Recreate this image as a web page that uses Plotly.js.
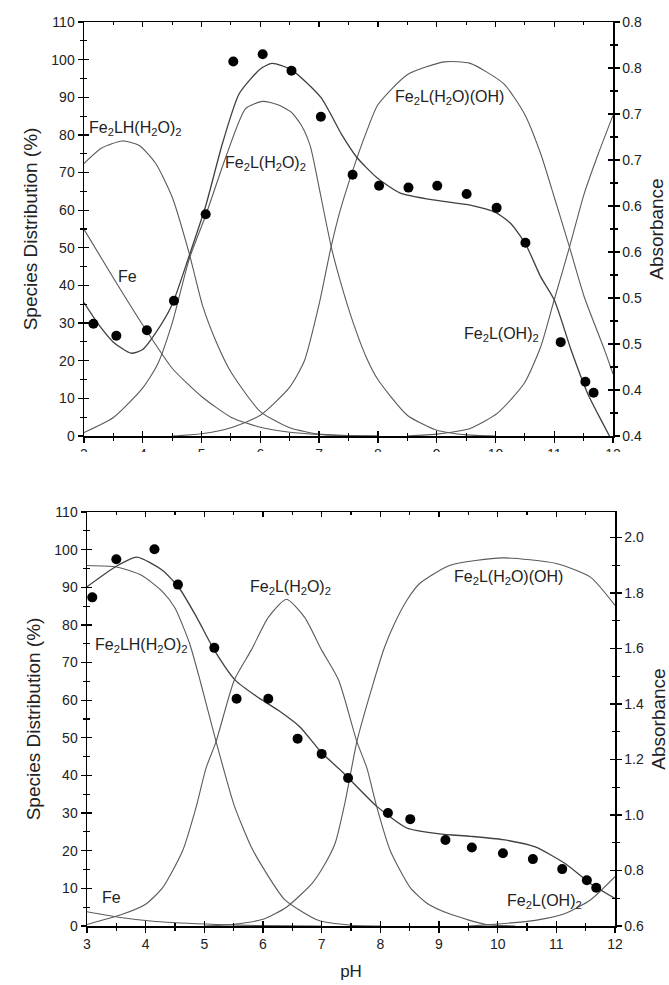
<!DOCTYPE html>
<html>
<head>
<meta charset="utf-8">
<script src="https://cdn.plot.ly/plotly-3.0.1.min.js"></script>
<style>html,body{margin:0;padding:0;background:#fff;}#chart{width:669px;height:985px;}</style>
</head>
<body>
<div id="chart"></div>
<script>
// ---------- TOP PANEL: species distribution (%) ----------
const topFeLH_pH = [3.0, 3.3, 3.65, 3.94, 4.22, 4.5, 4.79, 5.02, 5.25, 5.5, 6.0, 6.5, 7.0, 7.5, 8.0];
const topFeLH    = [72.4, 76.5, 78.4, 77.2, 72.4, 63.5, 48.5, 34.5, 25, 17, 6.5, 2.2, 0.5, 0.1, 0];

const topFe_pH = [3.0, 3.5, 4.0, 4.5, 5.0, 5.5, 6.0, 6.5, 7.0, 7.5, 8.0];
const topFe    = [54.9, 42, 29.5, 18, 10.5, 5, 2.3, 1.0, 0.4, 0.1, 0];

const topL2_pH = [3.0, 3.5, 4.0, 4.25, 4.5, 4.79, 5.07, 5.41, 5.75, 6.04, 6.3, 6.53, 6.7, 6.85, 7.0, 7.21, 7.4, 7.56, 7.8, 8.0, 8.5, 9.0, 9.25, 9.5, 10.0];
const topL2    = [0.9, 4.9, 12.8, 19, 30, 47, 58.6, 74, 87, 88.9, 88, 86, 82.5, 77, 66, 50, 39, 31, 21, 15, 5.5, 1.5, 0.8, 0.3, 0];

const topLOH_pH = [4.5, 5.0, 5.5, 6.0, 6.5, 6.75, 7.0, 7.2, 7.36, 7.56, 7.81, 8.0, 8.5, 9.13, 9.57, 10.14, 10.49, 10.77, 11.0, 11.26, 11.51, 11.86, 12.0];
const topLOH    = [0, 0.6, 2.2, 5.5, 13, 20, 35, 50, 60, 70, 81, 88, 96, 99.4, 99, 93.6, 85.7, 75, 63.5, 50.2, 37, 22.7, 16.5];

const topOH2_pH = [8.5, 9.0, 9.25, 9.57, 10.03, 10.49, 10.77, 11.0, 11.26, 11.51, 11.75, 12.0];
const topOH2    = [0, 0.5, 1.0, 2.0, 6, 14, 23.7, 36.2, 50.2, 64.4, 75, 85.2];

// absorbance fit + measured points (right axis)
const topFit_pH = [3.0, 3.25, 3.5, 3.8, 4.0, 4.25, 4.5, 4.79, 5.07, 5.36, 5.64, 6.0, 6.2, 6.53, 7.03, 7.39, 7.64, 7.98, 8.38, 9.0, 9.57, 10.0, 10.26, 10.51, 10.77, 11.0, 11.29, 11.57, 11.8, 11.94];
const topFit    = [0.545, 0.521, 0.502, 0.490, 0.494, 0.515, 0.543, 0.596, 0.650, 0.719, 0.772, 0.799, 0.805, 0.798, 0.768, 0.727, 0.703, 0.681, 0.664, 0.656, 0.651, 0.643, 0.631, 0.609, 0.573, 0.548, 0.493, 0.446, 0.417, 0.400];

const topDot_pH = [3.16, 3.55, 4.07, 4.53, 5.07, 5.54, 6.04, 6.53, 7.03, 7.57, 8.02, 8.52, 9.01, 9.51, 10.02, 10.51, 11.11, 11.53, 11.67];
const topDot    = [0.522, 0.509, 0.515, 0.547, 0.641, 0.807, 0.815, 0.797, 0.747, 0.684, 0.672, 0.670, 0.672, 0.663, 0.648, 0.610, 0.502, 0.459, 0.447];

const topAbsTicks  = [0.40, 0.45, 0.50, 0.55, 0.60, 0.65, 0.70, 0.75, 0.80, 0.85];
const topAbsLabels = ['0.4', '0.4', '0.5', '0.5', '0.6', '0.6', '0.7', '0.7', '0.8', '0.8'];

// ---------- BOTTOM PANEL ----------
const botFeLH_pH = [3.0, 3.5, 3.93, 4.29, 4.5, 4.75, 4.94, 5.2, 5.51, 5.8, 6.0, 6.37, 6.94, 7.5, 8.0];
const botFeLH    = [95.8, 95.4, 93.2, 88.8, 84.5, 75, 64.5, 49, 32, 21, 15.5, 7, 1.5, 0.2, 0];

const botFe_pH = [3.0, 3.6, 4.17, 5.2, 6.0, 7.0];
const botFe    = [3.8, 2.2, 1.2, 0.4, 0.1, 0];

const botL2_pH = [3.0, 3.6, 4.0, 4.29, 4.63, 4.86, 5.03, 5.2, 5.51, 5.8, 6.09, 6.4, 6.71, 7.0, 7.29, 7.6, 7.77, 7.94, 8.17, 8.51, 8.8, 9.2, 9.8, 10.3];
const botL2    = [0.4, 3.1, 5.8, 10.2, 20, 31.6, 42, 49, 65.3, 73.3, 82, 86.8, 82, 73.3, 65.3, 49, 42, 31.6, 20, 10.2, 6, 3.1, 0.4, 0];

const botLOH_pH = [5.0, 5.46, 6.0, 6.4, 6.83, 7.0, 7.23, 7.4, 7.6, 7.87, 8.07, 8.23, 8.45, 8.67, 9.18, 10.09, 11.0, 11.58, 12.0];
const botLOH    = [0, 0.4, 1.8, 5, 11.2, 15, 22, 33, 49, 64, 74, 80, 86.5, 91, 95.8, 97.8, 96.3, 92.7, 85.2];

const botOH2_pH = [9.5, 9.9, 10.64, 11.15, 11.58, 12.0];
const botOH2    = [0, 0.4, 1.5, 3.3, 6.9, 13.1];

const botFit_pH = [3.0, 3.5, 3.85, 4.29, 4.58, 4.87, 5.17, 5.53, 5.9, 6.26, 6.63, 7.0, 7.35, 7.94, 8.45, 9.0, 9.54, 10.09, 10.64, 11.15, 11.58, 12.0];
const botFit    = [1.822, 1.896, 1.929, 1.881, 1.815, 1.712, 1.594, 1.485, 1.426, 1.377, 1.317, 1.224, 1.156, 1.031, 0.953, 0.932, 0.923, 0.911, 0.885, 0.825, 0.753, 0.699];

const botDot_pH = [3.09, 3.50, 4.15, 4.55, 5.17, 5.55, 6.09, 6.59, 7.0, 7.45, 8.13, 8.51, 9.11, 9.56, 10.09, 10.6, 11.1, 11.52, 11.68];
const botDot    = [1.784, 1.921, 1.957, 1.830, 1.602, 1.419, 1.419, 1.275, 1.220, 1.133, 1.007, 0.985, 0.910, 0.883, 0.862, 0.841, 0.805, 0.765, 0.738];

const botAbsTicks  = [0.6, 0.8, 1.0, 1.2, 1.4, 1.6, 1.8, 2.0];
const botAbsLabels = ['0.6', '0.8', '1.0', '1.2', '1.4', '1.6', '1.8', '2.0'];

const pctTicks = [0, 10, 20, 30, 40, 50, 60, 70, 80, 90, 100, 110];

// ---------- styling ----------
const FONT = 'Liberation Sans, Arial, sans-serif';
const SPEC = {color: '#5a5a5a', width: 1.1};
const FITL = {color: '#404040', width: 1.3};

function curve(x, y, xa, ya, line) {
  return {x: x, y: y, xaxis: xa, yaxis: ya, type: 'scatter', mode: 'lines',
          line: Object.assign({shape: 'spline', smoothing: 0.6}, line), hoverinfo: 'skip'};
}
function dots(x, y, xa, ya) {
  return {x: x, y: y, xaxis: xa, yaxis: ya, type: 'scatter', mode: 'markers',
          marker: {color: '#000', size: 10}, hoverinfo: 'skip'};
}
function dummy(xa, ya) { return {x: [], y: [], xaxis: xa, yaxis: ya, type: 'scatter', mode: 'lines'}; }

const traces = [
  curve(topFeLH_pH, topFeLH, 'x', 'y', SPEC),
  curve(topFe_pH, topFe, 'x', 'y', SPEC),
  curve(topL2_pH, topL2, 'x', 'y', SPEC),
  curve(topLOH_pH, topLOH, 'x', 'y', SPEC),
  curve(topOH2_pH, topOH2, 'x', 'y', SPEC),
  curve(topFit_pH, topFit, 'x', 'y2', FITL),
  dots(topDot_pH, topDot, 'x', 'y2'),
  curve(botFeLH_pH, botFeLH, 'x2', 'y5', SPEC),
  curve(botFe_pH, botFe, 'x2', 'y5', SPEC),
  curve(botL2_pH, botL2, 'x2', 'y5', SPEC),
  curve(botLOH_pH, botLOH, 'x2', 'y5', SPEC),
  curve(botOH2_pH, botOH2, 'x2', 'y5', SPEC),
  curve(botFit_pH, botFit, 'x2', 'y6', FITL),
  dots(botDot_pH, botDot, 'x2', 'y6'),
  dummy('x3', 'y'), dummy('x', 'y3'), dummy('x', 'y4'),
  dummy('x4', 'y5'), dummy('x2', 'y7'), dummy('x2', 'y8')
];

const W = 669, H = 985;
const topX = [84 / W, 613 / W], botX = [87 / W, 615 / W];
const topY = [1 - 436 / H, 1 - 22 / H], botY = [1 - 926 / H, 1 - 512 / H];
const tickFont = {family: FONT, size: 14, color: '#222'};
const titleFont = {family: FONT, size: 19, color: '#222'};

function xMain(domain, anchor, title) {
  const a = {domain: domain, anchor: anchor, range: [3, 12], dtick: 1, tick0: 3,
    ticks: 'outside', ticklen: 5, tickwidth: 1.3, tickcolor: '#000',
    minor: {dtick: 0.5, ticks: 'outside', ticklen: 3, tickwidth: 1.1, tickcolor: '#000'},
    showline: true, linecolor: '#000', linewidth: 1.5, showgrid: false, zeroline: false,
    tickfont: tickFont, fixedrange: true};
  if (title) a.title = {text: title, font: {family: FONT, size: 17, color: '#222'}, standoff: 14};
  return a;
}
function xOver(over, anchor) {
  return {overlaying: over, anchor: anchor, side: 'bottom', range: [3, 12], dtick: 1, tick0: 3,
    ticks: 'inside', ticklen: 5, tickwidth: 1.3, tickcolor: '#000', mirror: 'allticks',
    minor: {dtick: 0.5, ticks: 'inside', ticklen: 3, tickwidth: 1.1, tickcolor: '#000'},
    showline: true, linecolor: '#000', linewidth: 1.5, showticklabels: false,
    showgrid: false, zeroline: false, fixedrange: true};
}
function yPct(domain, anchor) {
  return {domain: domain, anchor: anchor, range: [0, 110], tickvals: pctTicks,
    ticks: 'outside', ticklen: 5, tickwidth: 1.3, tickcolor: '#000',
    minor: {dtick: 5, tick0: 0, ticks: 'outside', ticklen: 3, tickwidth: 1.1, tickcolor: '#000'},
    showline: true, linecolor: '#000', linewidth: 1.5, showgrid: false, zeroline: false,
    tickfont: tickFont, fixedrange: true,
    title: {text: 'Species Distribution (%)', font: titleFont, standoff: 8}};
}
function yPctIn(over, anchor) {
  return {overlaying: over, anchor: anchor, side: 'left', range: [0, 110], tickvals: pctTicks,
    ticks: 'inside', ticklen: 5, tickwidth: 1.3, tickcolor: '#000',
    minor: {dtick: 5, tick0: 0, ticks: 'inside', ticklen: 3, tickwidth: 1.1, tickcolor: '#000'},
    showline: false, showticklabels: false, showgrid: false, zeroline: false, fixedrange: true};
}
function yAbs(over, anchor, range, vals, labels, minorStep, inside) {
  const a = {overlaying: over, anchor: anchor, side: 'right', range: range,
    tickvals: vals, ticktext: labels,
    ticks: inside ? 'inside' : 'outside', ticklen: 5, tickwidth: 1.3, tickcolor: '#000',
    minor: {dtick: minorStep, tick0: range[0], ticks: inside ? 'inside' : 'outside', ticklen: 3, tickwidth: 1.1, tickcolor: '#000'},
    showline: !inside, linecolor: '#000', linewidth: 1.5, showgrid: false, zeroline: false,
    tickfont: tickFont, fixedrange: true, showticklabels: !inside};
  if (!inside) a.title = {text: 'Absorbance', font: titleFont, standoff: 8};
  return a;
}

function lab(text, x, y, xr, yr) {
  return {text: text, x: x, y: y, xref: xr, yref: yr, showarrow: false,
          font: {family: FONT, size: 16, color: '#222'}, xanchor: 'center', yanchor: 'middle'};
}

const layout = {
  width: W, height: H, margin: {l: 0, r: 0, t: 0, b: 0},
  paper_bgcolor: '#fff', plot_bgcolor: 'rgba(0,0,0,0)', showlegend: false,
  xaxis: xMain(topX, 'y', null),
  xaxis3: xOver('x', 'y'),
  yaxis: yPct(topY, 'x'),
  yaxis2: yAbs('y', 'x', [0.4, 0.85], topAbsTicks, topAbsLabels, 0.025, false),
  yaxis3: yPctIn('y', 'x'),
  yaxis4: yAbs('y', 'x', [0.4, 0.85], topAbsTicks, topAbsLabels, 0.025, true),
  xaxis2: xMain(botX, 'y5', 'pH'),
  xaxis4: xOver('x2', 'y5'),
  yaxis5: yPct(botY, 'x2'),
  yaxis6: yAbs('y5', 'x2', [0.6, 2.0915], botAbsTicks, botAbsLabels, 0.1, false),
  yaxis7: yPctIn('y5', 'x2'),
  yaxis8: yAbs('y5', 'x2', [0.6, 2.0915], botAbsTicks, botAbsLabels, 0.1, true),
  annotations: [
    lab('Fe<sub>2</sub>LH(H<sub>2</sub>O)<sub>2</sub>', 3.87, 81.7, 'x', 'y'),
    lab('Fe', 3.74, 42.4, 'x', 'y'),
    lab('Fe<sub>2</sub>L(H<sub>2</sub>O)<sub>2</sub>', 6.08, 72.4, 'x', 'y'),
    lab('Fe<sub>2</sub>L(H<sub>2</sub>O)(OH)', 9.22, 90, 'x', 'y'),
    lab('Fe<sub>2</sub>L(OH)<sub>2</sub>', 10.1, 26.9, 'x', 'y'),
    lab('Fe<sub>2</sub>L(H<sub>2</sub>O)<sub>2</sub>', 6.47, 90, 'x2', 'y5'),
    lab('Fe<sub>2</sub>L(H<sub>2</sub>O)(OH)', 10.19, 92.7, 'x2', 'y5'),
    lab('Fe<sub>2</sub>LH(H<sub>2</sub>O)<sub>2</sub>', 3.93, 74.6, 'x2', 'y5'),
    lab('Fe', 3.41, 7.7, 'x2', 'y5'),
    lab('Fe<sub>2</sub>L(OH)<sub>2</sub>', 10.8, 6.4, 'x2', 'y5')
  ],
  shapes: [
    {type: 'rect', xref: 'paper', yref: 'paper', x0: 0, x1: 1, y0: 1 - 480 / H, y1: 1 - 452 / H,
     fillcolor: '#fff', line: {width: 0}, layer: 'above'}
  ]
};

Plotly.newPlot('chart', traces, layout, {staticPlot: true, displayModeBar: false});
</script>
</body>
</html>
